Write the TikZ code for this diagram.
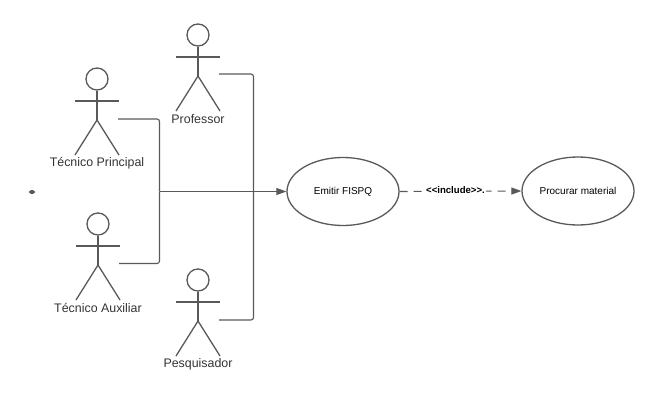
\documentclass[tikz,border=0pt]{standalone}
\usepackage{fontspec}
\setmainfont{Liberation Sans}
\usetikzlibrary{arrows.meta,calc,shapes.geometric}
\definecolor{ln}{HTML}{595959}
\definecolor{tx}{HTML}{333333}
\tikzset{
  x=1pt,y=-1pt,
  stroke/.style={draw=ln,line width=1.3pt},
  head/.style={stroke,circle,minimum size=22pt,inner sep=0pt},
  usecase/.style={stroke,ellipse,minimum width=112pt,minimum height=68pt,inner sep=0pt,text=black,font=\fontsize{10}{12}\selectfont},
  actorlabel/.style={text=tx,font=\fontsize{12.4}{14}\selectfont,inner sep=0pt},
  link/.style={draw=ln,line width=1.1pt,rounded corners=2.5pt},
  arrowlink/.style={draw=ln,line width=1.1pt,-{Triangle[length=10pt,width=7pt,fill=ln]}},
  pics/actor/.style 2 args={code={
    \node[head] (#1-head) at (0,0) {};
    \draw[stroke] (#1-head.south) -- (0,41) coordinate (#1-hip);
    \draw[stroke] (-22,22) coordinate (#1-larm) -- (22,22) coordinate (#1-rarm);
    \draw[stroke] (-22,76) -- (#1-hip) -- (22,76);
    \node[actorlabel] (#1-label) at (0,84) {#2};
  }}
}
\begin{document}
\begin{tikzpicture}
\useasboundingbox (0,0) rectangle (668,401);
\pic at (198,35) {actor={prof}{Professor}};
\pic at (97,79) {actor={princ}{Técnico Principal}};
\pic at (98,224) {actor={aux}{Técnico Auxiliar}};
\pic at (198,280) {actor={pesq}{Pesquisador}};
\node[usecase] (emitir) at (343,191.5) {Emitir FISPQ};
\node[usecase] (procurar) at (578,191) {Procurar material};
\node[fill=ln,ellipse,minimum width=6pt,minimum height=4pt,inner sep=0pt] (dot) at (32,192) {};
\coordinate (a1) at (118,119);
\coordinate (a2) at (119,263.5);
\coordinate (b1) at (219,74);
\coordinate (b2) at (219,320);
\coordinate (j1) at (159.5,191.5);
\coordinate (j2) at (253.5,191.5);
\draw[link] (a1) -- (159.5,119) -- (j1);
\draw[link] (a2) -- (159.5,263.5) -- (j1);
\draw[link] (b1) -- (253.5,74) -- (j2);
\draw[link] (b2) -- (253.5,320) -- (j2);
\draw[arrowlink] (j1) -- (emitir.west);
\draw[arrowlink,dash pattern=on 8pt off 6pt] (emitir.east) -- (procurar.west)
  node[midway,fill=white,inner sep=1pt,xshift=-5pt,yshift=1.5pt,text=black,font=\fontsize{9.6}{11}\selectfont\bfseries] (inc) {<{}<include>{}>.};
\end{tikzpicture}
\end{document}
